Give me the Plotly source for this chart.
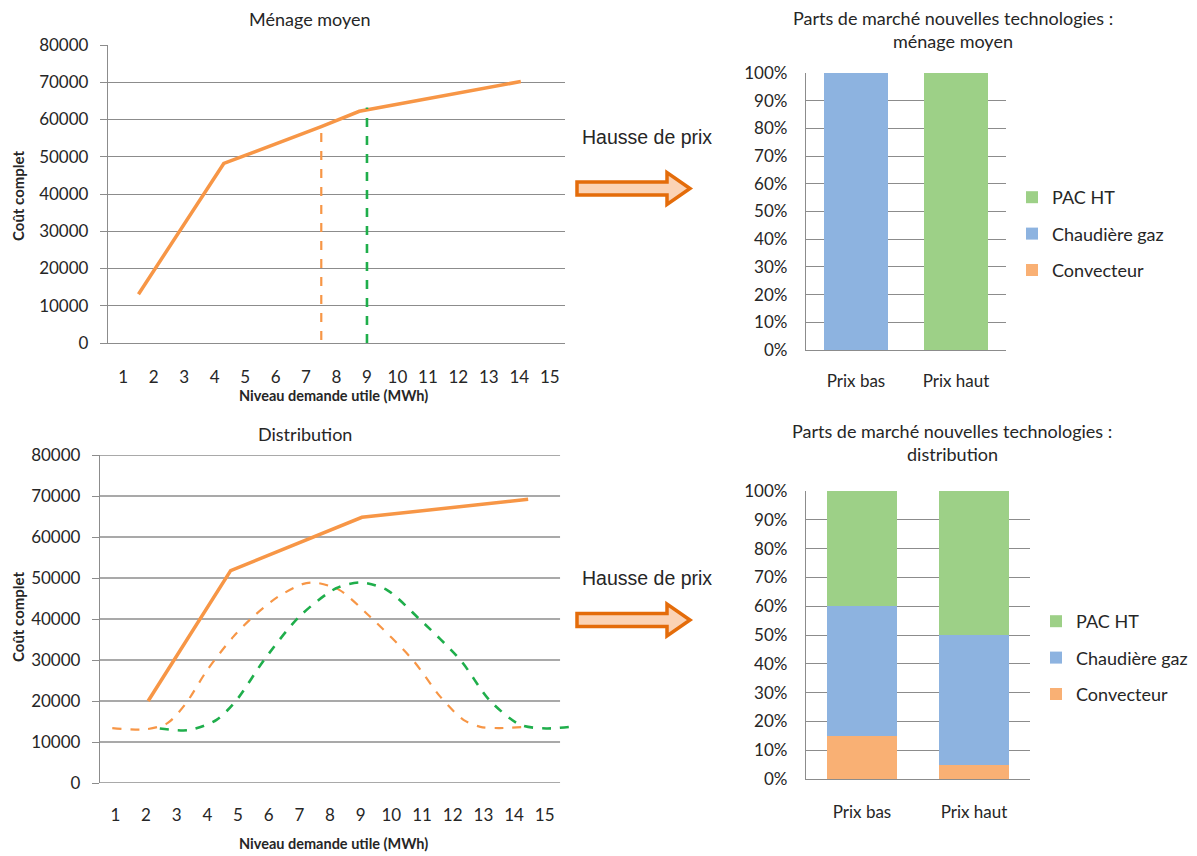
import plotly.graph_objects as go

# The page body adds an 8 px offset, so the figure is sized to fill the rest of the window
OFF = 8
W, H = 1197 - OFF, 856 - OFF
def px(x): return (x - OFF) / W
def py(y): return 1 - (y - OFF) / H

# ---------------- data ----------------
x_ticks = list(range(1, 16))
y_ticks = list(range(0, 80001, 10000))

# Ménage moyen
mm_cost_x = [1.5, 4.3, 7.5, 8.75, 14.05]
mm_cost_y = [13100, 48200, 58100, 62200, 70200]
mm_low_x = [7.5, 7.5]
mm_low_y = [800, 58000]
mm_high_x = [9, 9]
mm_high_y = [0, 63200]

# Distribution
di_cost_x = [2.07, 4.76, 9.04, 14.46]
di_cost_y = [20000, 51800, 64800, 69200]
di_low_x = [0.9, 2.0, 2.7, 3.3, 4.0, 4.85, 5.5, 6.3, 7.1, 7.5, 8.3, 9.3, 10.7, 11.6, 12.35, 12.9, 13.5, 14.4]
di_low_y = [13400, 13100, 14600, 19400, 27600, 35700, 40600, 45400, 48500, 48900, 47100, 40600, 30000, 21000, 15400, 13700, 13400, 13700]
di_high_x = [2.45, 3.4, 4.3, 4.95, 5.85, 7.0, 8.2, 9.0, 9.85, 10.9, 12.25, 13.2, 14.2, 15.05, 16.05]
di_high_y = [13300, 12900, 15400, 20200, 30000, 40600, 47500, 48900, 47100, 40100, 30000, 20200, 14200, 13300, 13900]

# Parts de marché
bar_cats = ["Prix bas", "Prix haut"]
techs = ["Convecteur", "Chaudière gaz", "PAC HT"]
mm_shares = {"Convecteur": [0, 0], "Chaudière gaz": [1, 0], "PAC HT": [0, 1]}
di_shares = {"Convecteur": [0.15, 0.05], "Chaudière gaz": [0.45, 0.45], "PAC HT": [0.40, 0.50]}
tech_colors = {"Convecteur": "#F9B074", "Chaudière gaz": "#8DB3E0", "PAC HT": "#9DD087"}
legend_rank = {"PAC HT": 1, "Chaudière gaz": 2, "Convecteur": 3}

ORANGE = "#F79646"
GREEN = "#1FAE4B"
GRID = "#8C8C8C"
TXT = "#262626"
FONT = "Lato"

fig = go.Figure()

# ---- top-left lines ----
fig.add_trace(go.Scatter(x=mm_cost_x, y=mm_cost_y, mode="lines", line=dict(color=ORANGE, width=3.5),
                         xaxis="x", yaxis="y", showlegend=False))
fig.add_trace(go.Scatter(x=mm_low_x, y=mm_low_y, mode="lines", line=dict(color=ORANGE, width=2.2, dash="dash"),
                         xaxis="x", yaxis="y", showlegend=False))
fig.add_trace(go.Scatter(x=mm_high_x, y=mm_high_y, mode="lines", line=dict(color=GREEN, width=2.6, dash="dash"),
                         xaxis="x", yaxis="y", showlegend=False))

# ---- bottom-left lines ----
fig.add_trace(go.Scatter(x=di_low_x, y=di_low_y, mode="lines", line=dict(color=ORANGE, width=2.2, dash="dash", shape="spline", smoothing=0.8),
                         xaxis="x2", yaxis="y2", showlegend=False))
fig.add_trace(go.Scatter(x=di_high_x, y=di_high_y, mode="lines", line=dict(color=GREEN, width=2.6, dash="dash", shape="spline", smoothing=0.8),
                         xaxis="x2", yaxis="y2", showlegend=False))
fig.add_trace(go.Scatter(x=di_cost_x, y=di_cost_y, mode="lines", line=dict(color=ORANGE, width=3.5),
                         xaxis="x2", yaxis="y2", showlegend=False))

# ---- bars ----
for t in techs:
    fig.add_trace(go.Bar(x=bar_cats, y=mm_shares[t], name=t, marker=dict(color=tech_colors[t], line=dict(width=0)),
                         width=0.64, xaxis="x3", yaxis="y3", legend="legend", legendgroup=t,
                         legendrank=legend_rank[t]))
for t in techs:
    fig.add_trace(go.Bar(x=bar_cats, y=di_shares[t], name=t, marker=dict(color=tech_colors[t], line=dict(width=0)),
                         width=0.63, xaxis="x4", yaxis="y4", legend="legend2", legendgroup=t + "2",
                         legendrank=legend_rank[t]))

tickfont = dict(family=FONT, size=17, color=TXT)

common_y = dict(range=[0, 80000], tickvals=y_ticks, tickformat="d", ticks="outside", ticklen=7,
                tickcolor=GRID, tickwidth=1.3, showline=True, linecolor=GRID, linewidth=1.3,
                zeroline=False, tickfont=tickfont, ticklabelstandoff=8, fixedrange=True, automargin=False)

layout = dict(
    width=W, height=H, margin=dict(l=0, r=0, t=0, b=0, autoexpand=False),
    paper_bgcolor="white", plot_bgcolor="white", barmode="stack",
    xaxis=dict(domain=[px(108), px(565)], range=[0.5, 15.5], tickvals=x_ticks, showgrid=False,
               showline=True, linecolor=GRID, linewidth=1.3, zeroline=False, ticks="",
               tickfont=tickfont, ticklabelstandoff=18, anchor="y", automargin=False),
    yaxis=dict(domain=[py(343), py(45)], showgrid=True, gridcolor=GRID, gridwidth=1.3, anchor="x", **common_y),
    xaxis2=dict(domain=[px(100), px(100 + 15.6 * 30.67)], range=[0.5, 16.1], tickvals=x_ticks, showgrid=False,
                showline=False, zeroline=False, ticks="", tickfont=tickfont, ticklabelstandoff=20, anchor="y2",
                automargin=False),
    yaxis2=dict(domain=[py(783), py(455)], showgrid=False, anchor="x2", **common_y),
    xaxis3=dict(domain=[px(806), px(1006)], type="category", showline=True, linecolor=GRID, linewidth=1.3,
                ticks="", tickfont=tickfont, ticklabelstandoff=15, anchor="y3", automargin=False),
    yaxis3=dict(domain=[py(350), py(73)], range=[0, 1], dtick=0.1, tickformat=".0%", showgrid=True,
                gridcolor=GRID, gridwidth=1.3, showline=True, linecolor=GRID, linewidth=1.3, zeroline=False,
                ticks="", tickfont=tickfont, ticklabelstandoff=14, anchor="x3", automargin=False),
    xaxis4=dict(domain=[px(806), px(1030)], type="category", showline=True, linecolor=GRID, linewidth=1.3,
                ticks="", tickfont=tickfont, ticklabelstandoff=17, anchor="y4", automargin=False),
    yaxis4=dict(domain=[py(779), py(491)], range=[0, 1], dtick=0.1, tickformat=".0%", showgrid=True,
                gridcolor=GRID, gridwidth=1.3, showline=True, linecolor=GRID, linewidth=1.3, zeroline=False,
                ticks="", tickfont=tickfont, ticklabelstandoff=14, anchor="x4", automargin=False),
    legend=dict(x=px(1012), y=py(179), xanchor="left", yanchor="top", traceorder="grouped",
                font=dict(family=FONT, size=18, color=TXT), tracegroupgap=10, itemwidth=30,
                bgcolor="rgba(0,0,0,0)"),
    legend2=dict(x=px(1036), y=py(603), xanchor="left", yanchor="top", traceorder="grouped",
                 font=dict(family=FONT, size=18, color=TXT), tracegroupgap=10, itemwidth=30,
                 bgcolor="rgba(0,0,0,0)"),
)
fig.update_layout(**layout)

# gridlines for the bottom-left chart (stop at the last category)
for v in y_ticks:
    fig.add_shape(type="line", xref="x2", yref="y2", x0=0.5, x1=15.5, y0=v, y1=v,
                  line=dict(color=GRID, width=1.3), layer="below")

annots = []
def txt(x, y, s, size=16, bold=False, family=FONT, angle=0, xanchor="center"):
    annots.append(dict(x=px(x), y=py(y), xref="paper", yref="paper", text=(f"<b>{s}</b>" if bold else s),
                       showarrow=False, xanchor=xanchor, yanchor="middle", textangle=angle,
                       font=dict(family=family, size=size, color=TXT)))

txt(310, 19, "Ménage moyen", size=18)
txt(305, 434, "Distribution", size=18)
txt(333, 396, "Niveau demande utile (MWh)", size=14.5, bold=True)
txt(333, 843, "Niveau demande utile (MWh)", size=14.5, bold=True)
txt(18, 196, "Coût complet", size=15, bold=True, angle=-90)
txt(18, 617, "Coût complet", size=15, bold=True, angle=-90)
txt(953, 18, "Parts de marché nouvelles technologies :", size=18)
txt(953, 41, "ménage moyen", size=18)
txt(952, 431, "Parts de marché nouvelles technologies :", size=18)
txt(952, 454, "distribution", size=18)
txt(647, 137, "Hausse de prix", size=19.5, family="Liberation Sans")
txt(647, 578, "Hausse de prix", size=19.5, family="Liberation Sans")
fig.update_layout(annotations=annots)

def arrow(cy):
    pts = [(577, cy - 6.5), (667, cy - 6.5), (667, cy - 16), (690, cy), (667, cy + 16), (667, cy + 6.5), (577, cy + 6.5)]
    path = "M " + " L ".join(f"{px(a):.5f},{py(b):.5f}" for a, b in pts) + " Z"
    fig.add_shape(type="path", xref="paper", yref="paper", path=path,
                  line=dict(color="#E46C0A", width=3.5), fillcolor="#FBD3B5")

arrow(188.5)
arrow(620)

fig.write_html("out.html")
